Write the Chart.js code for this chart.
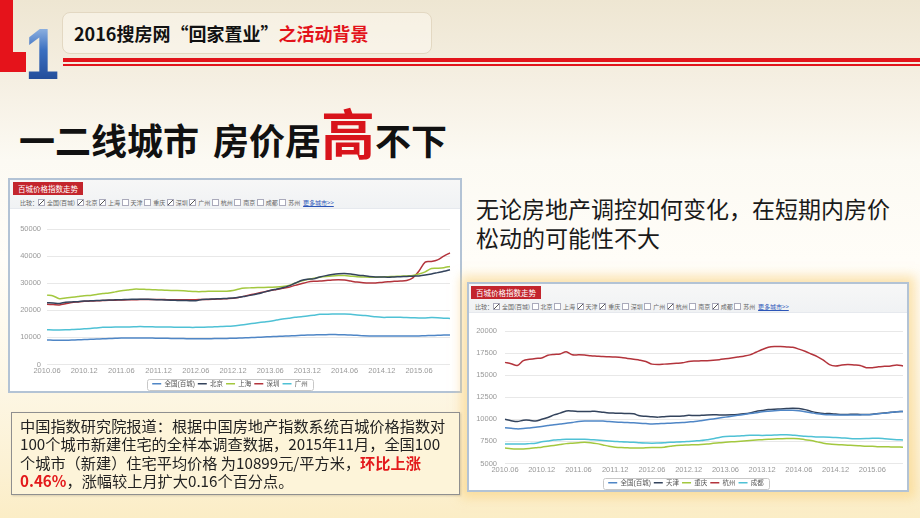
<!DOCTYPE html>
<html><head><meta charset="utf-8">
<script src="https://cdn.jsdelivr.net/npm/chart.js@4/dist/chart.umd.min.js"></script>
<style>
html,body{margin:0;padding:0;}
body{width:920px;height:518px;overflow:hidden;font-family:"Noto Sans CJK SC","Noto Sans",sans-serif;}
#slide{position:relative;width:920px;height:518px;overflow:hidden;
 background:linear-gradient(#eee6d2 0px,#f5efe2 80px,#fcfaf3 160px,#fffdf8 260px,#fdf7e6 380px,#fcf1d3 470px,#fbedc6 518px);}
.abs{position:absolute;}
#redL1{left:0;top:0;width:13px;height:72px;background:#e5131b;}
#redL2{left:0;top:52px;width:26px;height:20px;background:#e5131b;}
#one{left:25px;top:18px;font:bold 72px "Liberation Sans",sans-serif;line-height:1;transform:scaleX(0.85);transform-origin:left top;
 background:linear-gradient(#b5d0ef 0%,#3b6fc0 45%,#1b418c 100%);-webkit-background-clip:text;background-clip:text;color:transparent;}
#tbox{left:62px;top:12px;width:368px;height:40px;border:1px solid #e3d8c2;border-radius:8px;background:rgba(255,253,246,0.45);}
#ttext{left:74px;top:20px;font-size:18px;font-weight:700;line-height:26px;color:#111;white-space:nowrap;}
#ttext span{color:#e3131b;}
#rline1{left:63px;top:58px;width:857px;height:4px;background:#e2141b;}
#rline2{left:63px;top:64px;width:857px;height:2px;background:#e2141b;}
#head{left:19px;top:104px;font-size:36px;font-weight:700;line-height:56px;color:#111;white-space:nowrap;}
#head .big{color:#d8141b;font-size:54px;}
#rtext{left:476px;top:194px;font-size:23px;line-height:29px;color:#1a1a1a;white-space:nowrap;}
.frame{position:absolute;border:2px solid #b3c3d5;background:#fff;}
.hdr{position:absolute;left:0;top:0;right:0;height:28px;background:linear-gradient(#f7f7f7,#f0f2f4);border-bottom:1px solid #e6e9ee;}
.tab{position:absolute;background:#c3252d;color:#fff;font-size:7.5px;height:13px;line-height:13px;padding:0 5px;white-space:nowrap;}
.cmp{position:absolute;font-size:6px;line-height:9px;color:#666;white-space:nowrap;}
.ck{display:inline-block;margin-right:1.5px;}
.ck::before{content:"";display:inline-block;width:5px;height:5px;border:1px solid #aab;background:#fff;margin-right:2px;vertical-align:-1px;}
.ck.on::before{background:#fff linear-gradient(135deg,transparent 40%,#555 45%,#555 55%,transparent 60%);}
.more{color:#2b55b8;text-decoration:underline;}
#f2{box-shadow:0 0 10px 6px rgba(250,208,120,0.55);}
#note{left:11px;top:412px;width:447px;height:81px;border:1px solid #8f8f8f;background:#fdf4d9;box-shadow:1px 1px 2px rgba(0,0,0,0.15);}
#notetext{left:20px;top:416px;font-size:15.2px;line-height:18.3px;color:#222;white-space:nowrap;}
#notetext b{color:#e3191b;}
canvas{position:absolute;}
</style></head>
<body><div id="slide">
<div class="abs" id="redL1"></div><div class="abs" id="redL2"></div>
<div class="abs" id="one">1</div>
<div class="abs" id="tbox"></div>
<div class="abs" id="ttext">2016搜房网“回家置业”<span>之活动背景</span></div>
<div class="abs" id="rline1"></div><div class="abs" id="rline2"></div>
<div class="abs" id="head">一二线城市<span style="display:inline-block;width:14px"></span>房价居<span class="big">高</span>不下</div>

<div class="frame" id="f1" style="left:8px;top:178px;width:450px;height:211px;">
 <div class="hdr"></div>
 <div class="tab" style="left:3px;top:2px;">百城价格指数走势</div>
 <div class="cmp" style="left:10px;top:18px;">比较：<span class="ck on">全国(百城)</span><span class="ck on">北京</span><span class="ck on">上海</span><span class="ck">天津</span><span class="ck">重庆</span><span class="ck on">深圳</span><span class="ck on">广州</span><span class="ck">杭州</span><span class="ck">南京</span><span class="ck">成都</span><span class="ck">苏州</span> <span class="more">更多城市&gt;&gt;</span></div>
</div>
<canvas id="c1" width="451" height="189" style="left:10px;top:208px;"></canvas>

<div class="abs" id="rtext">无论房地产调控如何变化，在短期内房价<br>松动的可能性不大</div>

<div class="frame" id="f2" style="left:467px;top:282px;width:438px;height:206px;">
 <div class="hdr"></div>
 <div class="tab" style="left:2px;top:2px;">百城价格指数走势</div>
 <div class="cmp" style="left:6px;top:18px;">比较：<span class="ck on">全国(百城)</span><span class="ck">北京</span><span class="ck">上海</span><span class="ck on">天津</span><span class="ck on">重庆</span><span class="ck">深圳</span><span class="ck">广州</span><span class="ck on">杭州</span><span class="ck">南京</span><span class="ck on">成都</span><span class="ck">苏州</span> <span class="more">更多城市&gt;&gt;</span></div>
</div>
<canvas id="c2" width="438" height="185" style="left:469px;top:311px;"></canvas>

<div class="abs" id="note"></div>
<div class="abs" id="notetext">中国指数研究院报道：根据中国房地产指数系统百城价格指数对<br>100个城市新建住宅的全样本调查数据，2015年11月，全国100<br>个城市（新建）住宅平均价格 为10899元/平方米，<b>环比上涨</b><br><b>0.46%</b>，涨幅较上月扩大0.16个百分点。</div>
</div>
<script>
const months = [
 "2010.06","2010.07","2010.08","2010.09","2010.10","2010.11",
 "2010.12","2011.01","2011.02","2011.03","2011.04","2011.05",
 "2011.06","2011.07","2011.08","2011.09","2011.10","2011.11",
 "2011.12","2012.01","2012.02","2012.03","2012.04","2012.05",
 "2012.06","2012.07","2012.08","2012.09","2012.10","2012.11",
 "2012.12","2013.01","2013.02","2013.03","2013.04","2013.05",
 "2013.06","2013.07","2013.08","2013.09","2013.10","2013.11",
 "2013.12","2014.01","2014.02","2014.03","2014.04","2014.05",
 "2014.06","2014.07","2014.08","2014.09","2014.10","2014.11",
 "2014.12","2015.01","2015.02","2015.03","2015.04","2015.05",
 "2015.06","2015.07","2015.08","2015.09","2015.10","2015.11"];

const national = [
 9050,8980,8920,8950,9020,9100, 9200,9300,9400,9480,9550,9650,
 9750,9800,9820,9820,9800,9750, 9700,9660,9630,9600,9560,9520,
 9480,9500,9530,9560,9600,9640, 9700,9760,9850,9950,10050,10150,
 10250,10350,10450,10550,10650,10750, 10850,10920,10980,11020,11040,11020,
 10960,10860,10750,10630,10560,10520, 10500,10490,10480,10480,10500,10520,
 10560,10620,10700,10780,10850,10899];
const beijing = [
 22800,22700,22500,23000,23100,23200, 23400,23500,23600,23700,23800,23850,
 23900,24000,24050,24100,24050,24000, 23900,23800,23700,23650,23600,23550,
 23500,24000,24100,24200,24300,24400, 24500,24800,25200,25600,26100,26700,
 27300,27800,28300,29000,30000,31000, 31500,31600,32300,32800,33200,33500,
 33600,33400,33000,32800,32500,32300, 32300,32200,32300,32400,32500,32600,
 32700,33000,33400,33900,34400,35000];
const shanghai = [
 25600,25300,24300,24500,24800,25100, 25400,25500,25800,26200,26400,26800,
 27200,27500,27800,27800,27700,27600, 27500,27400,27300,27300,27200,27000,
 26900,26900,27000,27000,27000,27050, 27300,27900,28200,28300,28400,28400,
 28500,28600,28800,29200,30000,30800, 31400,31800,32200,32500,32700,32800,
 32800,32600,32400,32300,32200,32200, 32300,32400,32500,32600,32700,32800,
 33400,34200,35400,35500,35700,36200];
const shenzhen = [
 22200,22100,22000,22400,22900,23100, 23300,23400,23500,23600,23700,23750,
 23800,23850,23900,23950,24000,24000, 24000,23950,23900,23900,23900,23900,
 23900,24000,24000,24100,24200,24300, 24400,24800,25300,25800,26300,26800,
 27300,27700,28100,28500,29200,29800, 30400,30700,30800,31000,31200,31300,
 31200,30800,30400,30200,30100,30100, 30300,30500,30700,30800,31000,32000,
 34500,37800,38000,38600,40000,41200];
const guangzhou = [
 12800,12750,12750,12800,12900,13000, 13150,13300,13500,13700,13750,13800,
 13800,13850,13900,14000,13950,13900, 13850,13800,13800,13750,13750,13700,
 13700,13750,13800,13900,14000,14100, 14250,14500,14800,15100,15400,15700,
 16000,16400,16800,17100,17400,17600, 17900,18200,18500,18550,18600,18600,
 18600,18500,18300,18100,17900,17600, 17400,17400,17450,17450,17300,17250,
 17200,17200,17300,17250,17100,17000];
const tianjin = [
 10000,9850,9750,9900,9900,9800, 10000,10200,10500,10700,10950,10950,
 10900,10880,10900,10900,10800,10720, 10700,10680,10650,10620,10400,10350,
 10280,10250,10300,10350,10350,10380, 10450,10420,10450,10500,10520,10500,
 10500,10520,10560,10620,10720,10900, 11000,11100,11150,11180,11220,11250,
 11220,11100,10900,10750,10650,10650, 10600,10550,10550,10580,10550,10550,
 10580,10650,10720,10800,10850,10900];
const chongqing = [
 6750,6680,6650,6650,6700,6780, 6850,6950,7050,7150,7250,7300,
 7350,7400,7350,7250,7100,6950, 6850,6800,6780,6750,6750,6780,
 6800,6800,6850,6950,7050,7080, 7100,7120,7150,7200,7280,7350,
 7400,7450,7500,7550,7600,7650, 7700,7750,7780,7800,7820,7820,
 7800,7700,7600,7450,7300,7200, 7150,7120,7080,7050,7000,6950,
 6950,6900,6900,6880,6860,6850];
const hangzhou = [
 16450,16300,16100,16650,16800,16900, 16950,17250,17350,17400,17650,17300,
 17300,17280,17200,17150,17100,17080, 17050,17000,16900,16800,16700,16550,
 16250,16200,16250,16300,16350,16400, 16550,16600,16620,16640,16680,16750,
 16850,16950,17050,17150,17300,17600, 17900,18150,18250,18250,18200,18150,
 17950,17700,17400,17100,16700,16200, 16050,16150,16200,16150,16100,15850,
 15850,15950,16000,16050,16150,16050];
const chengdu = [
 7200,7200,7200,7200,7250,7300, 7450,7550,7650,7700,7750,7750,
 7750,7750,7700,7650,7600,7550, 7500,7450,7420,7400,7350,7320,
 7300,7320,7350,7400,7420,7450, 7500,7550,7600,7700,7800,7950,
 8050,8080,8100,8150,8200,8200, 8180,8200,8220,8250,8250,8200,
 8150,8080,8050,8000,8000,7980, 7950,7900,7850,7800,7800,7820,
 7850,7850,7800,7750,7700,7650];

const names1 = ["全国(百城)","北京","上海","深圳","广州"];
const names2 = ["全国(百城)","天津","重庆","杭州","成都"];
const yTicks1 = [0, 50000, 10000];
const yTicks2 = [5000, 20000, 2500];
const colors = ["#4f86c6","#33435c","#a3c83f","#b3343c","#4fc1d5"];

Chart.defaults.font.family = '"Liberation Sans","Noto Sans CJK SC",sans-serif';

const legendBox = {
  id: 'legendBox',
  afterDraw(chart) {
    const hb = chart.legend && chart.legend.legendHitBoxes;
    if (!hb || !hb.length) return;
    let x0 = Infinity, y0 = Infinity, x1 = -Infinity, y1 = -Infinity;
    hb.forEach(b => { x0 = Math.min(x0, b.left); y0 = Math.min(y0, b.top); x1 = Math.max(x1, b.left + b.width); y1 = Math.max(y1, b.top + b.height); });
    const ctx = chart.ctx;
    ctx.save();
    ctx.strokeStyle = '#c8c8c8'; ctx.lineWidth = 1;
    ctx.beginPath();
    ctx.roundRect(Math.round(x0 - 5) + 0.5, Math.round(y0 - 2) + 0.5, Math.round(x1 - x0 + 10), Math.round(y1 - y0 + 4), 2);
    ctx.stroke();
    ctx.restore();
  }
};

function makeChart(id, names, series, ticks, yWidth, pad, tickPad) {
  return new Chart(document.getElementById(id), {
    type: 'line',
    data: {
      labels: months,
      datasets: series.map((d, i) => ({
        label: names[i], data: d, borderColor: colors[i], backgroundColor: colors[i],
        borderWidth: 1.5, pointRadius: 0, tension: 0.3, fill: false
      }))
    },
    options: {
      responsive: false, animation: false, maintainAspectRatio: false,
      layout: { padding: pad },
      plugins: {
        legend: { position: 'bottom', labels: { usePointStyle: true, pointStyle: 'line', pointStyleWidth: 9, boxHeight: 6.5,
          font: { size: 6.5 }, color: '#555', padding: 3 } },
        tooltip: { enabled: false }
      },
      scales: {
        x: {
          grid: { display: false, drawTicks: false }, border: { display: false },
          ticks: { autoSkip: false, maxRotation: 0, minRotation: 0, font: { size: 7.5 }, color: '#999', padding: 2,
            callback: (v, i) => (i % 6 === 0 ? months[i] : '') },
          afterFit: s => { s.height = 13; }
        },
        y: {
          min: ticks[0], max: ticks[1],
          ticks: { stepSize: ticks[2], font: { size: 7.5 }, color: '#999', padding: tickPad, callback: v => String(v) },
          grid: { color: '#e8e8e8', drawTicks: false }, border: { display: false },
          afterFit: s => { s.width = yWidth; }
        }
      }
    },
    plugins: [legendBox]
  });
}

makeChart('c1', names1, [national, beijing, shanghai, shenzhen, guangzhou], yTicks1, 37, { top: 21, right: 11, left: 0, bottom: 0 }, 6);
makeChart('c2', names2, [national, tianjin, chongqing, hangzhou, chengdu], yTicks2, 36, { top: 20, right: 4, left: 0, bottom: 0 }, 8);
</script>
</body></html>
